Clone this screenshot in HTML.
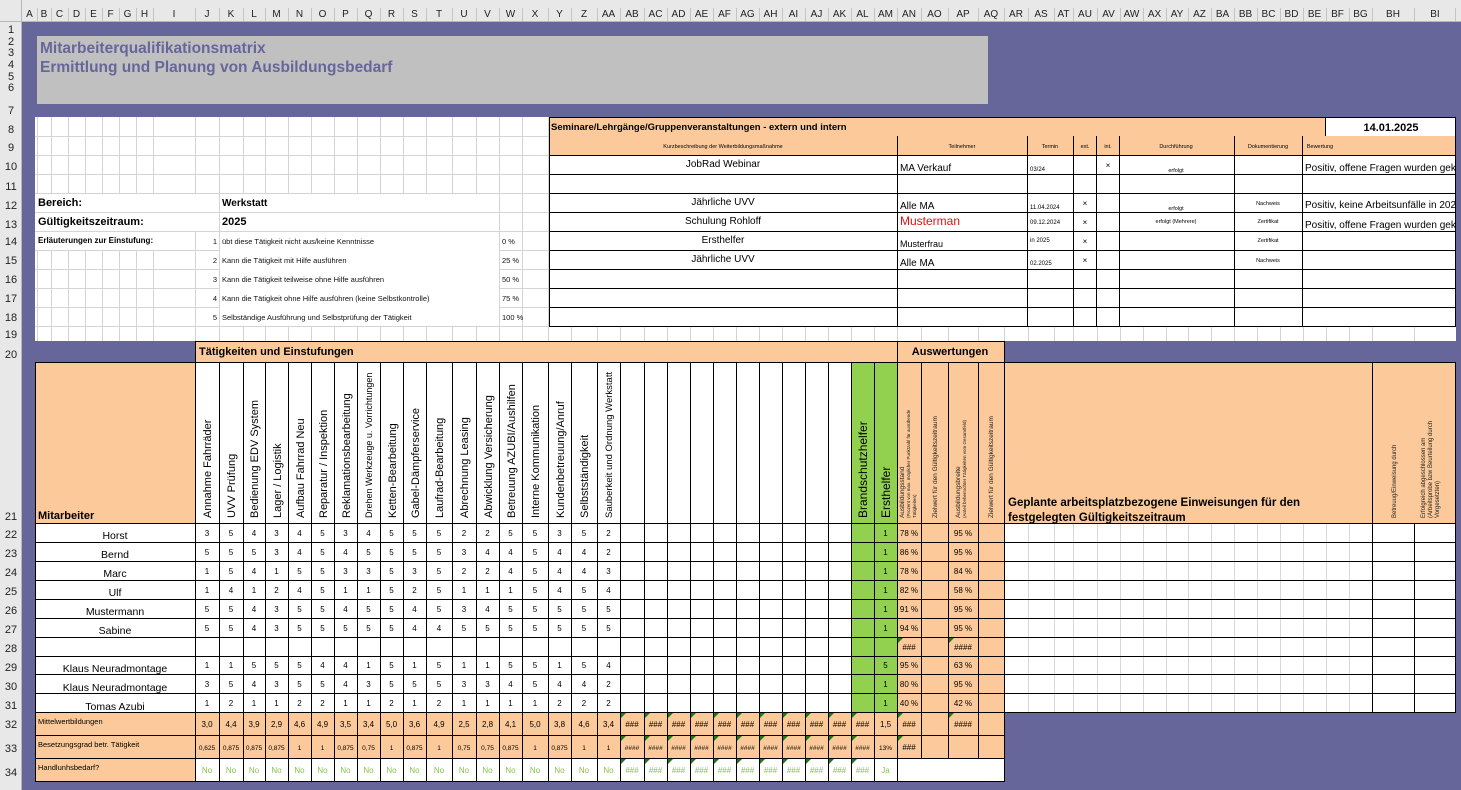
<!DOCTYPE html>
<html><head><meta charset="utf-8"><style>
html,body{margin:0;padding:0;background:#e8e8e8;}
svg{display:block;font-family:"Liberation Sans",Arial,sans-serif;}
</style></head><body>
<svg width="1461" height="790" viewBox="0 0 1461 790" xmlns="http://www.w3.org/2000/svg">
<defs>
<clipPath id="bw"><rect x="1302" y="150" width="154" height="100"/></clipPath>
<path id="tr" d="M0 0 H5 L0 5 Z" fill="#1a7a1a"/>
</defs>
<rect x="0" y="0" width="1461" height="790" fill="#e8e8e8"/>
<rect x="22" y="22" width="1439" height="768" fill="#67669b"/>
<line x1="0" y1="21.5" x2="1461" y2="21.5" stroke="#b8b8b8"/>
<line x1="21.5" y1="0" x2="21.5" y2="790" stroke="#b8b8b8"/>
<g font-size="10" fill="#222" text-anchor="middle">
<text x="29.5" y="17">A</text><text x="44" y="17">B</text><text x="59.5" y="17">C</text><text x="76.5" y="17">D</text><text x="93.5" y="17">E</text><text x="110.5" y="17">F</text><text x="127.5" y="17">G</text><text x="144.5" y="17">H</text><text x="174" y="17">I</text><text x="207" y="17">J</text><text x="231" y="17">K</text><text x="254" y="17">L</text><text x="276.5" y="17">M</text><text x="299.5" y="17">N</text><text x="322.5" y="17">O</text><text x="345.5" y="17">P</text><text x="368.5" y="17">Q</text><text x="391.5" y="17">R</text><text x="414.5" y="17">S</text><text x="439" y="17">T</text><text x="464" y="17">U</text><text x="487.5" y="17">V</text><text x="510.5" y="17">W</text><text x="535" y="17">X</text><text x="559.5" y="17">Y</text><text x="584" y="17">Z</text><text x="608.5" y="17">AA</text><text x="632" y="17">AB</text><text x="655.5" y="17">AC</text><text x="678.5" y="17">AD</text><text x="701.5" y="17">AE</text><text x="724.5" y="17">AF</text><text x="747.5" y="17">AG</text><text x="770.5" y="17">AH</text><text x="793.5" y="17">AI</text><text x="816.5" y="17">AJ</text><text x="839.5" y="17">AK</text><text x="862.5" y="17">AL</text><text x="885.5" y="17">AM</text><text x="909" y="17">AN</text><text x="934.5" y="17">AO</text><text x="963" y="17">AP</text><text x="991" y="17">AQ</text><text x="1016" y="17">AR</text><text x="1041" y="17">AS</text><text x="1063.5" y="17">AT</text><text x="1085" y="17">AU</text><text x="1108.5" y="17">AV</text><text x="1131.5" y="17">AW</text><text x="1154.5" y="17">AX</text><text x="1177" y="17">AY</text><text x="1199.5" y="17">AZ</text><text x="1222.5" y="17">BA</text><text x="1245.5" y="17">BB</text><text x="1268.5" y="17">BC</text><text x="1291.5" y="17">BD</text><text x="1314.5" y="17">BE</text><text x="1337.5" y="17">BF</text><text x="1360.5" y="17">BG</text><text x="1393" y="17">BH</text><text x="1435" y="17">BI</text>
</g>
<path stroke="#c4c4c4" d="M37.5 8V21M51.5 8V21M68.5 8V21M85.5 8V21M102.5 8V21M119.5 8V21M136.5 8V21M153.5 8V21M195.5 8V21M219.5 8V21M243.5 8V21M265.5 8V21M288.5 8V21M311.5 8V21M334.5 8V21M357.5 8V21M380.5 8V21M403.5 8V21M426.5 8V21M452.5 8V21M476.5 8V21M499.5 8V21M522.5 8V21M548.5 8V21M571.5 8V21M597.5 8V21M620.5 8V21M644.5 8V21M667.5 8V21M690.5 8V21M713.5 8V21M736.5 8V21M759.5 8V21M782.5 8V21M805.5 8V21M828.5 8V21M851.5 8V21M874.5 8V21M897.5 8V21M921.5 8V21M948.5 8V21M978.5 8V21M1004.5 8V21M1028.5 8V21M1054.5 8V21M1073.5 8V21M1097.5 8V21M1120.5 8V21M1143.5 8V21M1166.5 8V21M1188.5 8V21M1211.5 8V21M1234.5 8V21M1257.5 8V21M1280.5 8V21M1303.5 8V21M1326.5 8V21M1349.5 8V21M1372.5 8V21M1414.5 8V21M1455.5 8V21"/>
<g font-size="11" fill="#222" text-anchor="middle">
<text x="11" y="33">1</text><text x="11" y="45">2</text><text x="11" y="56">3</text><text x="11" y="68">4</text><text x="11" y="80">5</text><text x="11" y="91">6</text><text x="11" y="114">7</text><text x="11" y="133">8</text><text x="11" y="151">9</text><text x="11" y="170">10</text><text x="11" y="190">11</text><text x="11" y="209">12</text><text x="11" y="228">13</text><text x="11" y="245">14</text><text x="11" y="264">15</text><text x="11" y="283">16</text><text x="11" y="302">17</text><text x="11" y="321">18</text><text x="11" y="338">19</text><text x="11" y="358">20</text><text x="11" y="520">21</text><text x="11" y="538">22</text><text x="11" y="557">23</text><text x="11" y="576">24</text><text x="11" y="595">25</text><text x="11" y="614">26</text><text x="11" y="633">27</text><text x="11" y="652">28</text><text x="11" y="671">29</text><text x="11" y="690">30</text><text x="11" y="709">31</text><text x="11" y="728">32</text><text x="11" y="752">33</text><text x="11" y="776">34</text>
</g>
<rect x="37" y="36" width="951" height="68" fill="#c0c0c0"/>
<text x="40" y="53" font-size="15.5" font-weight="bold" fill="#67669b">Mitarbeiterqualifikationsmatrix</text>
<text x="40" y="72" font-size="15.5" font-weight="bold" fill="#67669b">Ermittlung und Planung von Ausbildungsbedarf</text>
<rect x="35" y="117" width="1421" height="224" fill="#fff"/>
<path stroke="#d4d4d4" d="M37.5 117V341M51.5 117V341M68.5 117V341M85.5 117V341M102.5 117V341M119.5 117V341M136.5 117V341M153.5 117V341M195.5 117V341M219.5 117V341M243.5 117V341M265.5 117V341M288.5 117V341M311.5 117V341M334.5 117V341M357.5 117V341M380.5 117V341M403.5 117V341M426.5 117V341M452.5 117V341M476.5 117V341M499.5 117V341M522.5 117V341M548.5 117V341M571.5 326V341M597.5 326V341M620.5 326V341M644.5 326V341M667.5 326V341M690.5 326V341M713.5 326V341M736.5 326V341M759.5 326V341M782.5 326V341M805.5 326V341M828.5 326V341M851.5 326V341M874.5 326V341M897.5 326V341M921.5 326V341M948.5 326V341M978.5 326V341M1004.5 326V341M1028.5 326V341M1054.5 326V341M1073.5 326V341M1097.5 326V341M1120.5 326V341M1143.5 326V341M1166.5 326V341M1188.5 326V341M1211.5 326V341M1234.5 326V341M1257.5 326V341M1280.5 326V341M1303.5 326V341M1326.5 326V341M1349.5 326V341M1372.5 326V341M1414.5 326V341M35 136.5H549M35 155.5H549M35 174.5H549M35 193.5H549M35 212.5H549M35 231.5H549M35 250.5H549M35 269.5H549M35 288.5H549M35 307.5H549M35 326.5H549"/>
<rect x="36" y="194" width="183" height="37" fill="#fff"/>
<rect x="220" y="194" width="279" height="37" fill="#fff"/>
<rect x="36" y="232" width="159" height="18" fill="#fff"/>
<rect x="220" y="232" width="279" height="94" fill="#fff"/>
<path stroke="#d4d4d4" d="M36 212.5H499"/>
<text x="38" y="206" font-size="11" font-weight="bold">Bereich:</text>
<text x="38" y="225" font-size="11" font-weight="bold">Gültigkeitszeitraum:</text>
<text x="222" y="206" font-size="10" font-weight="bold">Werkstatt</text>
<text x="222" y="225" font-size="11" font-weight="bold">2025</text>
<text x="38" y="243" font-size="8" font-weight="bold">Erläuterungen zur Einstufung:</text>
<g font-size="7.5" fill="#111">
<text x="217" y="244" text-anchor="end">1</text><text x="222" y="244">übt diese Tätigkeit nicht aus/keine Kenntnisse</text><text x="502" y="244">0 %</text>
<text x="217" y="263" text-anchor="end">2</text><text x="222" y="263">Kann die Tätigkeit mit Hilfe ausführen</text><text x="502" y="263">25 %</text>
<text x="217" y="282" text-anchor="end">3</text><text x="222" y="282">Kann die Tätigkeit teilweise ohne Hilfe ausführen</text><text x="502" y="282">50 %</text>
<text x="217" y="301" text-anchor="end">4</text><text x="222" y="301">Kann die Tätigkeit ohne Hilfe ausführen (keine Selbstkontrolle)</text><text x="502" y="301">75 %</text>
<text x="217" y="320" text-anchor="end">5</text><text x="222" y="320">Selbständige Ausführung und Selbstprüfung der Tätigkeit</text><text x="502" y="320">100 %</text>
</g>
<rect x="549" y="117" width="776" height="38" fill="#fcca9a"/>
<rect x="1325" y="117" width="131" height="19" fill="#fff"/>
<rect x="1325" y="136" width="131" height="19" fill="#fcca9a"/>
<path stroke="#000" fill="none" d="M549.5 117V327M1455.5 117V327M549 117.5H1456M549 155.5H1456M549 174.5H1456M549 193.5H1456M549 212.5H1456M549 231.5H1456M549 250.5H1456M549 269.5H1456M549 288.5H1456M549 307.5H1456M549 326.5H1456M897.5 136V327M1027.5 136V327M1073.5 136V327M1096.5 136V327M1119.5 136V327M1234.5 136V327M1302.5 136V327M1325.5 117V136"/>
<text x="551" y="130" font-size="9.5" font-weight="bold">Seminare/Lehrgänge/Gruppenveranstaltungen - extern und intern</text>
<text x="1391" y="131" font-size="11" font-weight="bold" text-anchor="middle">14.01.2025</text>
<g font-size="5.5" text-anchor="middle">
<text x="723" y="148">Kurzbeschreibung der Weiterbildungsmaßnahme</text><text x="962" y="148">Teilnehmer</text><text x="1050" y="148">Termin</text><text x="1085" y="148">ext.</text><text x="1108" y="148">int.</text><text x="1176" y="148">Durchführung</text><text x="1268" y="148">Dokumentierung</text><text x="1320" y="148">Bewertung</text>
</g>
<g font-size="10" text-anchor="middle">
<text x="723" y="167">JobRad Webinar</text><text x="723" y="205">Jährliche UVV</text><text x="723" y="224">Schulung Rohloff</text><text x="723" y="243">Ersthelfer</text><text x="723" y="262">Jährliche UVV</text>
</g>
<g font-size="10">
<text x="900" y="171">MA Verkauf</text><text x="900" y="209">Alle MA</text><text x="900" y="225" font-size="12" fill="#e01010">Musterman</text><text x="900" y="247" font-size="9">Musterfrau</text><text x="900" y="266">Alle MA</text>
</g>
<g font-size="6">
<text x="1030" y="171">03/24</text><text x="1030" y="209">11.04.2024</text><text x="1030" y="224">09.12.2024</text><text x="1030" y="242">in 2025</text><text x="1030" y="265">02.2025</text>
</g>
<g font-size="8" text-anchor="middle">
<text x="1108" y="168">×</text><text x="1085" y="206">×</text><text x="1085" y="225">×</text><text x="1085" y="244">×</text><text x="1085" y="263">×</text>
</g>
<g font-size="5.5" text-anchor="middle">
<text x="1176" y="172">erfolgt</text><text x="1176" y="210">erfolgt</text><text x="1176" y="223">erfolgt (Mehrere)</text>
<text x="1268" y="205">Nachweis</text><text x="1268" y="223">Zertifikat</text><text x="1268" y="242">Zertifikat</text><text x="1268" y="262">Nachweis</text>
</g>
<g font-size="10" clip-path="url(#bw)">
<text x="1305" y="171">Positiv, offene Fragen wurden geklärt</text><text x="1305" y="208">Positiv, keine Arbeitsunfälle in 2024</text><text x="1305" y="228">Positiv, offene Fragen wurden geklärt</text>
</g>
<rect x="195" y="341" width="809" height="21" fill="#fcca9a"/>
<rect x="35" y="362" width="160" height="161" fill="#fcca9a"/>
<rect x="195" y="362" width="656" height="161" fill="#fff"/>
<rect x="35" y="523" width="816" height="189" fill="#fff"/>
<rect x="851" y="362" width="46" height="350" fill="#92d050"/>
<rect x="897" y="362" width="107" height="350" fill="#fcca9a"/>
<rect x="1004" y="362" width="452" height="161" fill="#fcca9a"/>
<rect x="1004" y="523" width="452" height="189" fill="#fff"/>
<rect x="35" y="712" width="969" height="46" fill="#fcca9a"/>
<rect x="35" y="758" width="160" height="24" fill="#fcca9a"/>
<rect x="195" y="758" width="809" height="24" fill="#fff"/>
<path stroke="#d8d8d8" d="M1028.5 523V712M1054.5 523V712M1073.5 523V712M1097.5 523V712M1120.5 523V712M1143.5 523V712M1166.5 523V712M1188.5 523V712M1211.5 523V712M1234.5 523V712M1257.5 523V712M1280.5 523V712M1303.5 523V712M1326.5 523V712M1349.5 523V712"/>
<path stroke="#000" fill="none" d="M195 341.5H1004M35 362.5H1456M35 523.5H1456M35 542.5H1456M35 561.5H1456M35 580.5H1456M35 599.5H1456M35 618.5H1456M35 637.5H1456M35 656.5H1456M35 674.5H1456M35 693.5H1456M35 712.5H1456M35 735.5H1004M35 758.5H1004M35 781.5H1004
M35.5 362V782M195.5 341V782M1004.5 341V782M897.5 341V782M1372.5 362V712M1414.5 523V712M1455.5 362V712
M219.5 362V782M243.5 362V782M265.5 362V782M288.5 362V782M311.5 362V782M334.5 362V782M357.5 362V782M380.5 362V782M403.5 362V782M426.5 362V782M452.5 362V782M476.5 362V782M499.5 362V782M522.5 362V782M548.5 362V782M571.5 362V782M597.5 362V782M620.5 362V782M644.5 362V782M667.5 362V782M690.5 362V782M713.5 362V782M736.5 362V782M759.5 362V782M782.5 362V782M805.5 362V782M828.5 362V782M851.5 362V782M874.5 362V782M921.5 362V758M948.5 362V758M978.5 362V758"/>
<text x="199" y="355" font-size="11" font-weight="bold">Tätigkeiten und Einstufungen</text>
<text x="950" y="355" font-size="11" font-weight="bold" text-anchor="middle">Auswertungen</text>
<text x="38" y="519" font-size="11" font-weight="bold">Mitarbeiter</text>
<g font-size="11" fill="#000">
<text transform="translate(211,518) rotate(-90)">Annahme Fahrräder</text>
<text transform="translate(235,518) rotate(-90)">UVV Prüfung</text>
<text transform="translate(258,518) rotate(-90)">Bedienung EDV System</text>
<text transform="translate(281,518) rotate(-90)">Lager / Logistik</text>
<text transform="translate(304,518) rotate(-90)">Aufbau Fahrrad Neu</text>
<text transform="translate(327,518) rotate(-90)">Reparatur / Inspektion</text>
<text transform="translate(350,518) rotate(-90)">Reklamationsbearbeitung</text>
<text transform="translate(372,518) rotate(-90)" font-size="9">Drehen Werkzeuge u. Vorrichtungen</text>
<text transform="translate(396,518) rotate(-90)">Ketten-Bearbeitung</text>
<text transform="translate(419,518) rotate(-90)">Gabel-Dämpferservice</text>
<text transform="translate(443,518) rotate(-90)">Laufrad-Bearbeitung</text>
<text transform="translate(468,518) rotate(-90)">Abrechnung Leasing</text>
<text transform="translate(492,518) rotate(-90)">Abwicklung Versicherung</text>
<text transform="translate(515,518) rotate(-90)">Betreuung AZUBI/Aushilfen</text>
<text transform="translate(539,518) rotate(-90)">Interne Kommunikation</text>
<text transform="translate(564,518) rotate(-90)">Kundenbetreuung/Anruf</text>
<text transform="translate(588,518) rotate(-90)">Selbstständigkeit</text>
<text transform="translate(612,518) rotate(-90)" font-size="9.5">Sauberkeit und Ordnung Werkstatt</text>
<text transform="translate(867,518) rotate(-90)" font-size="12">Brandschutzhelfer</text>
<text transform="translate(890,518) rotate(-90)" font-size="12">Ersthelfer</text>
</g>
<g font-size="6.5" fill="#222">
<text transform="translate(904,518) rotate(-90)">Ausbildungsstand</text>
<text transform="translate(910,518) rotate(-90)" font-size="4.5">(Prozent von max. möglicher Punktzahl für ausübende</text>
<text transform="translate(916,518) rotate(-90)" font-size="4.5">Tätigkeiten)</text>
<text transform="translate(937,518) rotate(-90)">Zielwert für den Gültigkeitszeitraum</text>
<text transform="translate(960,518) rotate(-90)">Ausbildungsbreite</text>
<text transform="translate(966,518) rotate(-90)" font-size="4.5">(Anteil beherrschter Tätigkeiten vom Gesamtfeld)</text>
<text transform="translate(993,518) rotate(-90)">Zielwert für den Gültigkeitszeitraum</text>
<text transform="translate(1396,518) rotate(-90)" font-size="6">Betreuug/Einweisung durch</text>
<text transform="translate(1425,518) rotate(-90)" font-size="6">Erfolgreich abgeschlossen am</text>
<text transform="translate(1432,518) rotate(-90)" font-size="6">(Arbeitsprobe bzw Beurteilung durch</text>
<text transform="translate(1439,518) rotate(-90)" font-size="6">Vorgesetzten)</text>
</g>
<text x="1008" y="506" font-size="11.5" font-weight="bold">Geplante arbeitsplatzbezogene Einweisungen für den</text>
<text x="1008" y="521" font-size="11.5" font-weight="bold">festgelegten Gültigkeitszeitraum</text>
<g font-size="10.5" text-anchor="middle">
<text x="115" y="539">Horst</text><text x="115" y="558">Bernd</text><text x="115" y="577">Marc</text><text x="115" y="596">Ulf</text><text x="115" y="615">Mustermann</text><text x="115" y="634">Sabine</text><text x="115" y="672">Klaus Neuradmontage</text><text x="115" y="691">Klaus Neuradmontage</text><text x="115" y="710">Tomas Azubi</text>
</g>
<g font-size="8" text-anchor="middle">
<text x="207 231 254 276.5 299.5 322.5 345.5 368.5 391.5 414.5 439 464 487.5 510.5 535 559.5 584 608.5" y="536">354345345552255352</text>
<text x="207 231 254 276.5 299.5 322.5 345.5 368.5 391.5 414.5 439 464 487.5 510.5 535 559.5 584 608.5" y="555">555345455553445442</text>
<text x="207 231 254 276.5 299.5 322.5 345.5 368.5 391.5 414.5 439 464 487.5 510.5 535 559.5 584 608.5" y="574">154155335352245443</text>
<text x="207 231 254 276.5 299.5 322.5 345.5 368.5 391.5 414.5 439 464 487.5 510.5 535 559.5 584 608.5" y="593">141245115251115454</text>
<text x="207 231 254 276.5 299.5 322.5 345.5 368.5 391.5 414.5 439 464 487.5 510.5 535 559.5 584 608.5" y="612">554355455453455555</text>
<text x="207 231 254 276.5 299.5 322.5 345.5 368.5 391.5 414.5 439 464 487.5 510.5 535 559.5 584 608.5" y="631">554355555445555555</text>
<text x="207 231 254 276.5 299.5 322.5 345.5 368.5 391.5 414.5 439 464 487.5 510.5 535 559.5 584 608.5" y="668">115554415151155154</text>
<text x="207 231 254 276.5 299.5 322.5 345.5 368.5 391.5 414.5 439 464 487.5 510.5 535 559.5 584 608.5" y="687">354355435553345442</text>
<text x="207 231 254 276.5 299.5 322.5 345.5 368.5 391.5 414.5 439 464 487.5 510.5 535 559.5 584 608.5" y="706">121122112121111222</text>
<text x="885.5" y="536">1</text><text x="885.5" y="555">1</text><text x="885.5" y="574">1</text><text x="885.5" y="593">1</text><text x="885.5" y="612">1</text><text x="885.5" y="631">1</text><text x="885.5" y="668">5</text><text x="885.5" y="687">1</text><text x="885.5" y="706">1</text>
<text x="909" y="536">78 %</text><text x="909" y="555">86 %</text><text x="909" y="574">78 %</text><text x="909" y="593">82 %</text><text x="909" y="612">91 %</text><text x="909" y="631">94 %</text><text x="909" y="650">###</text><text x="909" y="668">95 %</text><text x="909" y="687">80 %</text><text x="909" y="706">40 %</text>
<text x="963" y="536">95 %</text><text x="963" y="555">95 %</text><text x="963" y="574">84 %</text><text x="963" y="593">58 %</text><text x="963" y="612">95 %</text><text x="963" y="631">95 %</text><text x="963" y="650">####</text><text x="963" y="668">63 %</text><text x="963" y="687">95 %</text><text x="963" y="706">42 %</text>
</g>
<g font-size="7.5">
<text x="38" y="724">Mittelwertbildungen</text>
<text x="38" y="747">Besetzungsgrad betr. Tätigkeit</text>
<text x="38" y="770">Handlunhsbedarf?</text>
</g>
<g font-size="8" text-anchor="middle">
<text x="207" y="727">3,0</text><text x="231" y="727">4,4</text><text x="254" y="727">3,9</text><text x="276.5" y="727">2,9</text><text x="299.5" y="727">4,6</text><text x="322.5" y="727">4,9</text><text x="345.5" y="727">3,5</text><text x="368.5" y="727">3,4</text><text x="391.5" y="727">5,0</text><text x="414.5" y="727">3,6</text><text x="439" y="727">4,9</text><text x="464" y="727">2,5</text><text x="487.5" y="727">2,8</text><text x="510.5" y="727">4,1</text><text x="535" y="727">5,0</text><text x="559.5" y="727">3,8</text><text x="584" y="727">4,6</text><text x="608.5" y="727">3,4</text>
<text x="632" y="727">###</text><text x="655.5" y="727">###</text><text x="678.5" y="727">###</text><text x="701.5" y="727">###</text><text x="724.5" y="727">###</text><text x="747.5" y="727">###</text><text x="770.5" y="727">###</text><text x="793.5" y="727">###</text><text x="816.5" y="727">###</text><text x="839.5" y="727">###</text><text x="862.5" y="727">###</text><text x="885.5" y="727">1,5</text><text x="909" y="727">###</text><text x="963" y="727">####</text>
</g>
<g font-size="6.5" text-anchor="middle">
<text x="207" y="750">0,625</text><text x="231" y="750">0,875</text><text x="254" y="750">0,875</text><text x="276.5" y="750">0,875</text><text x="299.5" y="750">1</text><text x="322.5" y="750">1</text><text x="345.5" y="750">0,875</text><text x="368.5" y="750">0,75</text><text x="391.5" y="750">1</text><text x="414.5" y="750">0,875</text><text x="439" y="750">1</text><text x="464" y="750">0,75</text><text x="487.5" y="750">0,75</text><text x="510.5" y="750">0,875</text><text x="535" y="750">1</text><text x="559.5" y="750">0,875</text><text x="584" y="750">1</text><text x="608.5" y="750">1</text>
<text x="632" y="750">####</text><text x="655.5" y="750">####</text><text x="678.5" y="750">####</text><text x="701.5" y="750">####</text><text x="724.5" y="750">####</text><text x="747.5" y="750">####</text><text x="770.5" y="750">####</text><text x="793.5" y="750">####</text><text x="816.5" y="750">####</text><text x="839.5" y="750">####</text><text x="862.5" y="750">####</text><text x="885.5" y="750">13%</text><text x="909" y="750" font-size="8">###</text>
</g>
<g font-size="8" text-anchor="middle" fill="#8cc04a">
<text x="207" y="773">No</text><text x="231" y="773">No</text><text x="254" y="773">No</text><text x="276.5" y="773">No</text><text x="299.5" y="773">No</text><text x="322.5" y="773">No</text><text x="345.5" y="773">No</text><text x="368.5" y="773">No</text><text x="391.5" y="773">No</text><text x="414.5" y="773">No</text><text x="439" y="773">No</text><text x="464" y="773">No</text><text x="487.5" y="773">No</text><text x="510.5" y="773">No</text><text x="535" y="773">No</text><text x="559.5" y="773">No</text><text x="584" y="773">No</text><text x="608.5" y="773">No</text>
<text x="632" y="773">###</text><text x="655.5" y="773">###</text><text x="678.5" y="773">###</text><text x="701.5" y="773">###</text><text x="724.5" y="773">###</text><text x="747.5" y="773">###</text><text x="770.5" y="773">###</text><text x="793.5" y="773">###</text><text x="816.5" y="773">###</text><text x="839.5" y="773">###</text><text x="862.5" y="773">###</text><text x="885.5" y="773">Ja</text>
</g>
<g>
<use href="#tr" x="621" y="713"/><use href="#tr" x="645" y="713"/><use href="#tr" x="668" y="713"/><use href="#tr" x="691" y="713"/><use href="#tr" x="714" y="713"/><use href="#tr" x="737" y="713"/><use href="#tr" x="760" y="713"/><use href="#tr" x="783" y="713"/><use href="#tr" x="806" y="713"/><use href="#tr" x="829" y="713"/><use href="#tr" x="852" y="713"/><use href="#tr" x="898" y="713"/><use href="#tr" x="949" y="713"/>
<use href="#tr" x="621" y="736"/><use href="#tr" x="645" y="736"/><use href="#tr" x="668" y="736"/><use href="#tr" x="691" y="736"/><use href="#tr" x="714" y="736"/><use href="#tr" x="737" y="736"/><use href="#tr" x="760" y="736"/><use href="#tr" x="783" y="736"/><use href="#tr" x="806" y="736"/><use href="#tr" x="829" y="736"/><use href="#tr" x="852" y="736"/><use href="#tr" x="898" y="736"/>
<use href="#tr" x="621" y="759"/><use href="#tr" x="645" y="759"/><use href="#tr" x="668" y="759"/><use href="#tr" x="691" y="759"/><use href="#tr" x="714" y="759"/><use href="#tr" x="737" y="759"/><use href="#tr" x="760" y="759"/><use href="#tr" x="783" y="759"/><use href="#tr" x="806" y="759"/><use href="#tr" x="829" y="759"/><use href="#tr" x="852" y="759"/>
<use href="#tr" x="898" y="638"/><use href="#tr" x="949" y="638"/>
</g>
</svg>
</body></html>
